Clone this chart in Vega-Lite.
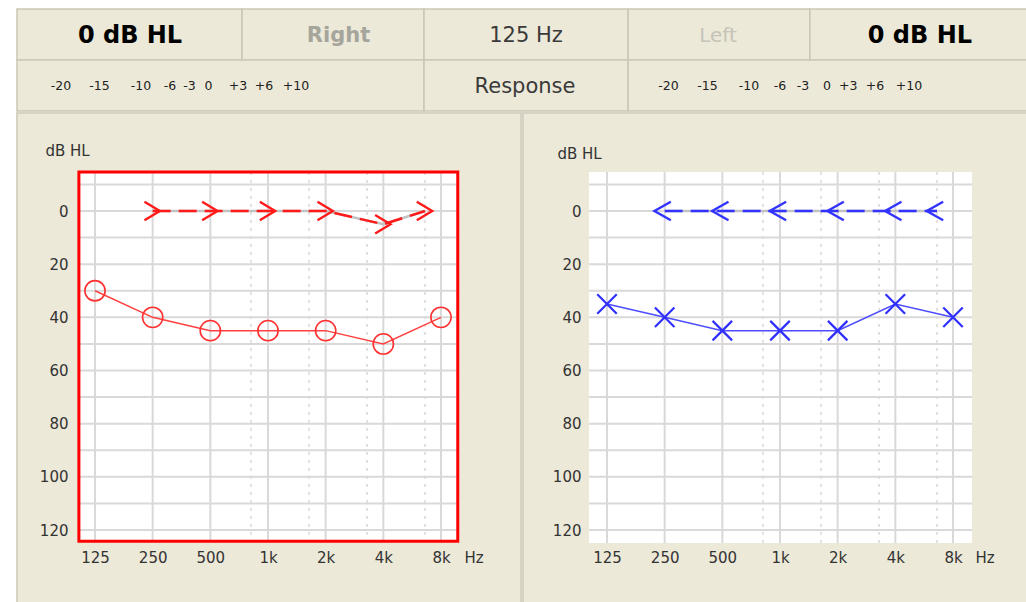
{
  "$schema": "https://vega.github.io/schema/vega-lite/v6.json",
  "background": "#FFFFFF",
  "padding": {"left": 16, "top": 8, "right": 0, "bottom": 0},
  "spacing": 0,
  "config": {
    "view": {"stroke": null},
    "concat": {"spacing": 0},
    "axis": {
      "labelFont": "DejaVu Sans", "labelFontSize": 15, "labelColor": "#333333",
      "titleFont": "DejaVu Sans", "titleFontSize": 15, "titleFontWeight": "normal", "titleColor": "#333333",
      "domain": false, "ticks": false, "grid": false, "labelOverlap": false, "labelFlush": false
    },
    "text": {"font": "DejaVu Sans"}
  },
  "datasets": {
    "headerCells": [
      {"x": 0, "xe": 22.28, "y": 0, "ye": 1},
      {"x": 22.28, "xe": 40.3, "y": 0, "ye": 1},
      {"x": 40.3, "xe": 60.5, "y": 0, "ye": 1},
      {"x": 60.5, "xe": 78.5, "y": 0, "ye": 1},
      {"x": 78.5, "xe": 100, "y": 0, "ye": 1},
      {"x": 0, "xe": 40.3, "y": 1, "ye": 2},
      {"x": 40.3, "xe": 60.5, "y": 1, "ye": 2},
      {"x": 60.5, "xe": 100, "y": 1, "ye": 2}
    ],
    "headerText": [
      {"t": "0 dB HL", "k": "val", "x": 11.19, "y": 0.53},
      {"t": "0 dB HL", "k": "val", "x": 89.4, "y": 0.53},
      {"t": "Right", "k": "ear", "x": 31.83, "y": 0.53},
      {"t": "Left", "k": "earoff", "x": 69.4, "y": 0.53},
      {"t": "125 Hz", "k": "mid", "x": 50.4, "y": 0.53},
      {"t": "Response", "k": "mid", "x": 50.3, "y": 1.52},
      {"t": "-20", "k": "sc", "x": 4.36, "y": 1.51},
      {"t": "-15", "k": "sc", "x": 8.17, "y": 1.51},
      {"t": "-10", "k": "sc", "x": 12.28, "y": 1.51},
      {"t": "-6", "k": "sc", "x": 15.15, "y": 1.51},
      {"t": "-3", "k": "sc", "x": 17.08, "y": 1.51},
      {"t": "0", "k": "sc", "x": 18.96, "y": 1.51},
      {"t": "+3", "k": "sc", "x": 21.88, "y": 1.51},
      {"t": "+6", "k": "sc", "x": 24.46, "y": 1.51},
      {"t": "+10", "k": "sc", "x": 27.62, "y": 1.51},
      {"t": "-20", "k": "sc", "x": 64.5, "y": 1.51},
      {"t": "-15", "k": "sc", "x": 68.37, "y": 1.51},
      {"t": "-10", "k": "sc", "x": 72.48, "y": 1.51},
      {"t": "-6", "k": "sc", "x": 75.54, "y": 1.51},
      {"t": "-3", "k": "sc", "x": 77.82, "y": 1.51},
      {"t": "0", "k": "sc", "x": 80.2, "y": 1.51},
      {"t": "+3", "k": "sc", "x": 82.3, "y": 1.51},
      {"t": "+6", "k": "sc", "x": 84.95, "y": 1.51},
      {"t": "+10", "k": "sc", "x": 88.32, "y": 1.51}
    ],
    "lPlot": [{"f": 103, "f2": 9787, "db": -14.7, "db2": 124.2}],
    "rPlot": [{"f": 100.6, "f2": 10054, "db": -14.7, "db2": 124.9}],
    "lVGrid": [
      {"f": 125, "db": -14.7, "db2": 124.2}, {"f": 250, "db": -14.7, "db2": 124.2},
      {"f": 500, "db": -14.7, "db2": 124.2}, {"f": 1000, "db": -14.7, "db2": 124.2},
      {"f": 2000, "db": -14.7, "db2": 124.2}, {"f": 4000, "db": -14.7, "db2": 124.2},
      {"f": 8000, "db": -14.7, "db2": 124.2}
    ],
    "rVGrid": [
      {"f": 125, "db": -14.7, "db2": 124.9}, {"f": 250, "db": -14.7, "db2": 124.9},
      {"f": 500, "db": -14.7, "db2": 124.9}, {"f": 1000, "db": -14.7, "db2": 124.9},
      {"f": 2000, "db": -14.7, "db2": 124.9}, {"f": 4000, "db": -14.7, "db2": 124.9},
      {"f": 8000, "db": -14.7, "db2": 124.9}
    ],
    "lDot": [
      {"f": 815, "db": -14.7, "db2": 124.2}, {"f": 1637, "db": -14.7, "db2": 124.2},
      {"f": 3290, "db": -14.7, "db2": 124.2}, {"f": 6600, "db": -14.7, "db2": 124.2}
    ],
    "rDot": [
      {"f": 815, "db": -14.7, "db2": 124.9}, {"f": 1637, "db": -14.7, "db2": 124.9},
      {"f": 3290, "db": -14.7, "db2": 124.9}, {"f": 6600, "db": -14.7, "db2": 124.9}
    ],
    "lHGrid": [
      {"db": -10, "f": 103, "f2": 9787}, {"db": 0, "f": 103, "f2": 9787},
      {"db": 10, "f": 103, "f2": 9787}, {"db": 20, "f": 103, "f2": 9787},
      {"db": 30, "f": 103, "f2": 9787}, {"db": 40, "f": 103, "f2": 9787},
      {"db": 50, "f": 103, "f2": 9787}, {"db": 60, "f": 103, "f2": 9787},
      {"db": 70, "f": 103, "f2": 9787}, {"db": 80, "f": 103, "f2": 9787},
      {"db": 90, "f": 103, "f2": 9787}, {"db": 100, "f": 103, "f2": 9787},
      {"db": 110, "f": 103, "f2": 9787}, {"db": 120, "f": 103, "f2": 9787}
    ],
    "rHGrid": [
      {"db": -10, "f": 100.6, "f2": 10054}, {"db": 0, "f": 100.6, "f2": 10054},
      {"db": 10, "f": 100.6, "f2": 10054}, {"db": 20, "f": 100.6, "f2": 10054},
      {"db": 30, "f": 100.6, "f2": 10054}, {"db": 40, "f": 100.6, "f2": 10054},
      {"db": 50, "f": 100.6, "f2": 10054}, {"db": 60, "f": 100.6, "f2": 10054},
      {"db": 70, "f": 100.6, "f2": 10054}, {"db": 80, "f": 100.6, "f2": 10054},
      {"db": 90, "f": 100.6, "f2": 10054}, {"db": 100, "f": 100.6, "f2": 10054},
      {"db": 110, "f": 100.6, "f2": 10054}, {"db": 120, "f": 100.6, "f2": 10054}
    ],
    "rightEarAC": [
      {"f": 125, "db": 30}, {"f": 250, "db": 40}, {"f": 500, "db": 45}, {"f": 1000, "db": 45},
      {"f": 2000, "db": 45}, {"f": 4000, "db": 50}, {"f": 8000, "db": 40}
    ],
    "rightEarBC": [
      {"f": 250, "db": 0}, {"f": 500, "db": 0}, {"f": 1000, "db": 0},
      {"f": 2000, "db": 0}, {"f": 4000, "db": 5}, {"f": 6600, "db": 0}
    ],
    "leftEarAC": [
      {"f": 125, "db": 35}, {"f": 250, "db": 40}, {"f": 500, "db": 45}, {"f": 1000, "db": 45},
      {"f": 2000, "db": 45}, {"f": 4000, "db": 35}, {"f": 8000, "db": 40}
    ],
    "leftEarBC": [
      {"f": 250, "db": 0}, {"f": 500, "db": 0}, {"f": 1000, "db": 0},
      {"f": 2000, "db": 0}, {"f": 4000, "db": 0}, {"f": 6600, "db": 0}
    ]
  },
  "vconcat": [
    {
      "width": 1010,
      "height": 102,
      "view": {"fill": "#ECE9D8", "stroke": null},
      "encoding": {
        "x": {"field": "x", "type": "quantitative", "scale": {"domain": [0, 100], "nice": false}, "axis": null},
        "y": {"field": "y", "type": "quantitative", "scale": {"domain": [0, 2], "nice": false, "reverse": true}, "axis": null}
      },
      "layer": [
        {
          "data": {"name": "headerCells"},
          "mark": {"type": "rect", "fill": "#ECE9D8", "stroke": "#CBC7B7", "strokeWidth": 1.5},
          "encoding": {"x2": {"field": "xe"}, "y2": {"field": "ye"}}
        },
        {
          "data": {"name": "headerText"},
          "transform": [{"filter": "datum.k == 'val'"}],
          "mark": {"type": "text", "fontSize": 24, "fontWeight": "bold", "color": "#000000", "align": "center", "baseline": "middle"},
          "encoding": {"text": {"field": "t"}}
        },
        {
          "data": {"name": "headerText"},
          "transform": [{"filter": "datum.k == 'ear'"}],
          "mark": {"type": "text", "fontSize": 21, "fontWeight": "bold", "color": "#A6A59C", "align": "center", "baseline": "middle"},
          "encoding": {"text": {"field": "t"}}
        },
        {
          "data": {"name": "headerText"},
          "transform": [{"filter": "datum.k == 'earoff'"}],
          "mark": {"type": "text", "fontSize": 20, "color": "#C6C3B8", "align": "center", "baseline": "middle"},
          "encoding": {"text": {"field": "t"}}
        },
        {
          "data": {"name": "headerText"},
          "transform": [{"filter": "datum.k == 'mid'"}],
          "mark": {"type": "text", "fontSize": 21, "color": "#3A3A3A", "align": "center", "baseline": "middle"},
          "encoding": {"text": {"field": "t"}}
        },
        {
          "data": {"name": "headerText"},
          "transform": [{"filter": "datum.k == 'sc'"}],
          "mark": {"type": "text", "fontSize": 12.5, "color": "#222222", "align": "center", "baseline": "middle"},
          "encoding": {"text": {"field": "t"}}
        }
      ]
    },
    {
      "spacing": 0,
      "hconcat": [
        {
          "width": 504,
          "height": 492,
          "view": {"fill": "#ECE9D8", "stroke": "#D6D2C4", "strokeWidth": 2},
          "encoding": {
            "x": {
              "field": "f", "type": "quantitative",
              "scale": {"type": "log", "base": 2, "domain": [125, 8000], "range": [78, 424], "nice": false},
              "axis": {
                "orient": "bottom", "offset": -64, "labelPadding": 9, "labelBaseline": "top",
                "values": [125, 250, 500, 1000, 2000, 4000, 8000],
                "labelExpr": "datum.value >= 1000 ? (datum.value / 1000) + 'k' : '' + datum.value",
                "title": "Hz", "titleX": 447, "titleY": 9, "titleAlign": "left", "titleBaseline": "top"
              }
            },
            "y": {
              "field": "db", "type": "quantitative",
              "scale": {"domain": [0, 120], "range": [98, 417], "nice": false, "zero": false},
              "axis": {
                "orient": "left", "offset": -62, "labelPadding": 11,
                "values": [0, 20, 40, 60, 80, 100, 120],
                "title": "dB HL", "titleAngle": 0, "titleX": -34, "titleY": 37,
                "titleAlign": "left", "titleBaseline": "middle", "titleFontSize": 15
              }
            }
          },
          "layer": [
            {"data": {"name": "lPlot"}, "mark": {"type": "rect", "fill": "#FFFFFF"}, "encoding": {"x2": {"field": "f2"}, "y2": {"field": "db2"}}},
            {"data": {"name": "lVGrid"}, "mark": {"type": "rule", "stroke": "#D9D9D9", "strokeWidth": 2}, "encoding": {"y2": {"field": "db2"}}},
            {"data": {"name": "lDot"}, "mark": {"type": "rule", "stroke": "#C4C4C4", "strokeWidth": 1, "strokeDash": [3, 5]}, "encoding": {"y2": {"field": "db2"}}},
            {"data": {"name": "lHGrid"}, "mark": {"type": "rule", "stroke": "#D9D9D9", "strokeWidth": 2}, "encoding": {"x2": {"field": "f2"}}},
            {"data": {"name": "lPlot"}, "mark": {"type": "rect", "filled": false, "stroke": "#FF0000", "strokeWidth": 3}, "encoding": {"x2": {"field": "f2"}, "y2": {"field": "db2"}}},
            {"data": {"name": "rightEarBC"}, "mark": {"type": "line", "stroke": "#C2C2C2", "strokeWidth": 2.5}, "encoding": {}},
            {"data": {"name": "rightEarBC"}, "mark": {"type": "line", "stroke": "#FF1A1A", "strokeWidth": 2.5, "strokeDash": [18, 8]}, "encoding": {}},
            {"data": {"name": "rightEarBC"}, "mark": {"type": "point", "shape": "M-0.8,-0.9L0.7,0L-0.8,0.9", "size": 420, "filled": false, "stroke": "#FF1A1A", "strokeWidth": 2.4, "opacity": 1}, "encoding": {}},
            {"data": {"name": "rightEarAC"}, "mark": {"type": "line", "stroke": "#FF4040", "strokeWidth": 1.5}, "encoding": {}},
            {"data": {"name": "rightEarAC"}, "mark": {"type": "point", "shape": "circle", "size": 410, "filled": false, "stroke": "#FF3030", "strokeWidth": 1.6, "opacity": 1}, "encoding": {}}
          ]
        },
        {
          "width": 506,
          "height": 492,
          "view": {"fill": "#ECE9D8", "stroke": "#D6D2C4", "strokeWidth": 2},
          "encoding": {
            "x": {
              "field": "f", "type": "quantitative",
              "scale": {"type": "log", "base": 2, "domain": [125, 8000], "range": [84, 430], "nice": false},
              "axis": {
                "orient": "bottom", "offset": -64, "labelPadding": 9, "labelBaseline": "top",
                "values": [125, 250, 500, 1000, 2000, 4000, 8000],
                "labelExpr": "datum.value >= 1000 ? (datum.value / 1000) + 'k' : '' + datum.value",
                "title": "Hz", "titleX": 452, "titleY": 9, "titleAlign": "left", "titleBaseline": "top"
              }
            },
            "y": {
              "field": "db", "type": "quantitative",
              "scale": {"domain": [0, 120], "range": [98, 417], "nice": false, "zero": false},
              "axis": {
                "orient": "left", "offset": -66, "labelPadding": 8,
                "values": [0, 20, 40, 60, 80, 100, 120],
                "title": "dB HL", "titleAngle": 0, "titleX": -32, "titleY": 40,
                "titleAlign": "left", "titleBaseline": "middle", "titleFontSize": 15
              }
            }
          },
          "layer": [
            {"data": {"name": "rPlot"}, "mark": {"type": "rect", "fill": "#FFFFFF"}, "encoding": {"x2": {"field": "f2"}, "y2": {"field": "db2"}}},
            {"data": {"name": "rVGrid"}, "mark": {"type": "rule", "stroke": "#D9D9D9", "strokeWidth": 2}, "encoding": {"y2": {"field": "db2"}}},
            {"data": {"name": "rDot"}, "mark": {"type": "rule", "stroke": "#C4C4C4", "strokeWidth": 1, "strokeDash": [3, 5]}, "encoding": {"y2": {"field": "db2"}}},
            {"data": {"name": "rHGrid"}, "mark": {"type": "rule", "stroke": "#D9D9D9", "strokeWidth": 2}, "encoding": {"x2": {"field": "f2"}}},
            {"data": {"name": "leftEarBC"}, "mark": {"type": "line", "stroke": "#C2C2C2", "strokeWidth": 2.5}, "encoding": {}},
            {"data": {"name": "leftEarBC"}, "mark": {"type": "line", "stroke": "#3333FF", "strokeWidth": 2.5, "strokeDash": [18, 8]}, "encoding": {}},
            {"data": {"name": "leftEarBC"}, "mark": {"type": "point", "shape": "M0.6,-0.9L-1,0L0.6,0.9", "size": 420, "filled": false, "stroke": "#3333FF", "strokeWidth": 2.4, "opacity": 1}, "encoding": {}},
            {"data": {"name": "leftEarAC"}, "mark": {"type": "line", "stroke": "#4D4DFF", "strokeWidth": 1.5}, "encoding": {}},
            {"data": {"name": "leftEarAC"}, "mark": {"type": "point", "shape": "M-1,-1L1,1M-1,1L1,-1", "size": 380, "filled": false, "stroke": "#2F2FFF", "strokeWidth": 2.2, "opacity": 1}, "encoding": {}}
          ]
        }
      ]
    }
  ]
}
